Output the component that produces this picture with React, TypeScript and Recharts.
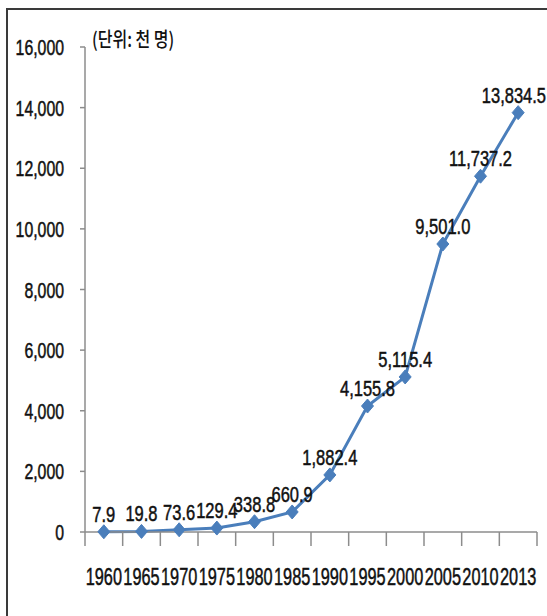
import React from 'react';
import { LineChart, Line, XAxis, YAxis, LabelList } from 'recharts';

const years = ['1960', '1965', '1970', '1975', '1980', '1985', '1990', '1995', '2000', '2005', '2010', '2013'];
const population = [7.9, 19.8, 73.6, 129.4, 338.8, 660.9, 1882.4, 4155.8, 5115.4, 9501.0, 11737.2, 13834.5];
const yTicks = [0, 2000, 4000, 6000, 8000, 10000, 12000, 14000, 16000];
const unitLabel = '(단위: 천 명)';

const data = years.map((y, i) => ({ year: y, value: population[i] }));

const W = 547;
const H = 616;
const PLOT_LEFT = 85;
const PLOT_RIGHT = 537;
const HALF_BAND = (PLOT_RIGHT - PLOT_LEFT) / years.length / 2;

const FONT = '"Liberation Sans", Arial, sans-serif';
const CJK_FONT = '"Noto Sans CJK KR", sans-serif';
const TEXT_COLOR = '#111';
const AXIS_COLOR = '#8c8c8c';
const LINE_COLOR = '#4A7EBB';

const fmtAxis = (v: number) => v.toLocaleString('en-US');
const fmtLabel = (v: number) =>
  v.toLocaleString('en-US', { minimumFractionDigits: 1, maximumFractionDigits: 1 });

// approximate Liberation Sans advance widths (em)
const textWidthEm = (s: string) =>
  s.split('').reduce((a, c) => a + (c === ',' || c === '.' ? 0.278 : 0.556), 0);

const CText = ({ x, y, anchor, size, sx, children }: any) => (
  <text
    transform={`translate(${x},${y}) scale(${sx},1)`}
    textAnchor={anchor}
    fontSize={size}
    fontFamily={FONT}
    fill={TEXT_COLOR}
    stroke={TEXT_COLOR}
    strokeWidth={0.5}
  >
    {children}
  </text>
);

const YTick = (props: any) => {
  const { x, y, payload } = props;
  return (
    <CText x={x} y={y + 8} anchor="end" size={22} sx={0.72}>
      {fmtAxis(payload.value)}
    </CText>
  );
};

const XTick = (props: any) => {
  const { x, y, payload, index } = props;
  const last = index === years.length - 1;
  return (
    <g>
      <line x1={x - HALF_BAND} x2={x - HALF_BAND} y1={y} y2={y + 14} stroke={AXIS_COLOR} strokeWidth={1.5} />
      {last && (
        <line x1={x + HALF_BAND} x2={x + HALF_BAND} y1={y} y2={y + 14} stroke={AXIS_COLOR} strokeWidth={1.5} />
      )}
      <CText x={x} y={y + 53} anchor="middle" size={24} sx={0.68}>
        {payload.value}
      </CText>
    </g>
  );
};

const PointLabel = (props: any) => {
  const { x, y, value } = props;
  if (x == null || y == null) return null;
  const s = fmtLabel(Number(value));
  const size = 22;
  const sx = 0.75;
  const w = textWidthEm(s) * size * sx;
  const cx = Math.min(x, W - w / 2 - 1);
  return (
    <CText x={cx} y={y - 10} anchor="middle" size={size} sx={sx}>
      {s}
    </CText>
  );
};

const Diamond = (props: any) => {
  const { cx, cy } = props;
  if (cx == null || cy == null) return null;
  const w = 6, h = 7;
  return (
    <polygon
      points={`${cx},${cy - h} ${cx + w},${cy} ${cx},${cy + h} ${cx - w},${cy}`}
      fill={LINE_COLOR}
      stroke={LINE_COLOR}
    />
  );
};

export default function App() {
  return (
    <div style={{ position: 'absolute', left: 0, top: 0, width: W, height: H, background: '#fff', overflow: 'hidden' }}>
      <div
        style={{
          position: 'absolute',
          left: 6,
          top: 8,
          width: W - 6,
          height: H - 8,
          borderLeft: '2px solid #3a3a3a',
          borderTop: '2px solid #3a3a3a',
          boxSizing: 'border-box',
        }}
      />
      <div style={{ position: 'absolute', left: 0, top: 0 }}>
        <LineChart
          width={W}
          height={H}
          data={data}
          margin={{ top: 47, right: W - PLOT_RIGHT, bottom: 0, left: 0 }}
        >
          <XAxis
            dataKey="year"
            height={H - 532}
            padding={{ left: HALF_BAND, right: HALF_BAND }}
            stroke={AXIS_COLOR}
            strokeWidth={1.5}
            tickLine={false}
            tickSize={0}
            tickMargin={0}
            interval={0}
            tick={<XTick />}
          />
          <YAxis
            width={PLOT_LEFT}
            domain={[0, 16000]}
            ticks={yTicks}
            tickSize={5}
            tickMargin={16}
            stroke={AXIS_COLOR}
            strokeWidth={1.5}
            interval={0}
            tick={<YTick />}
          />
          <Line
            dataKey="value"
            stroke={LINE_COLOR}
            strokeWidth={3}
            dot={<Diamond />}
            activeDot={false}
            isAnimationActive={false}
          >
            <LabelList dataKey="value" content={<PointLabel />} />
          </Line>
        </LineChart>
      </div>
      <div
        style={{
          position: 'absolute',
          left: 92,
          top: 27,
          fontSize: 20,
          lineHeight: '24px',
          fontFamily: CJK_FONT,
          fontWeight: 500,
          color: TEXT_COLOR,
          whiteSpace: 'nowrap',
          transform: 'scaleX(0.8)',
          transformOrigin: 'left top',
        }}
      >
        {unitLabel}
      </div>
    </div>
  );
}
